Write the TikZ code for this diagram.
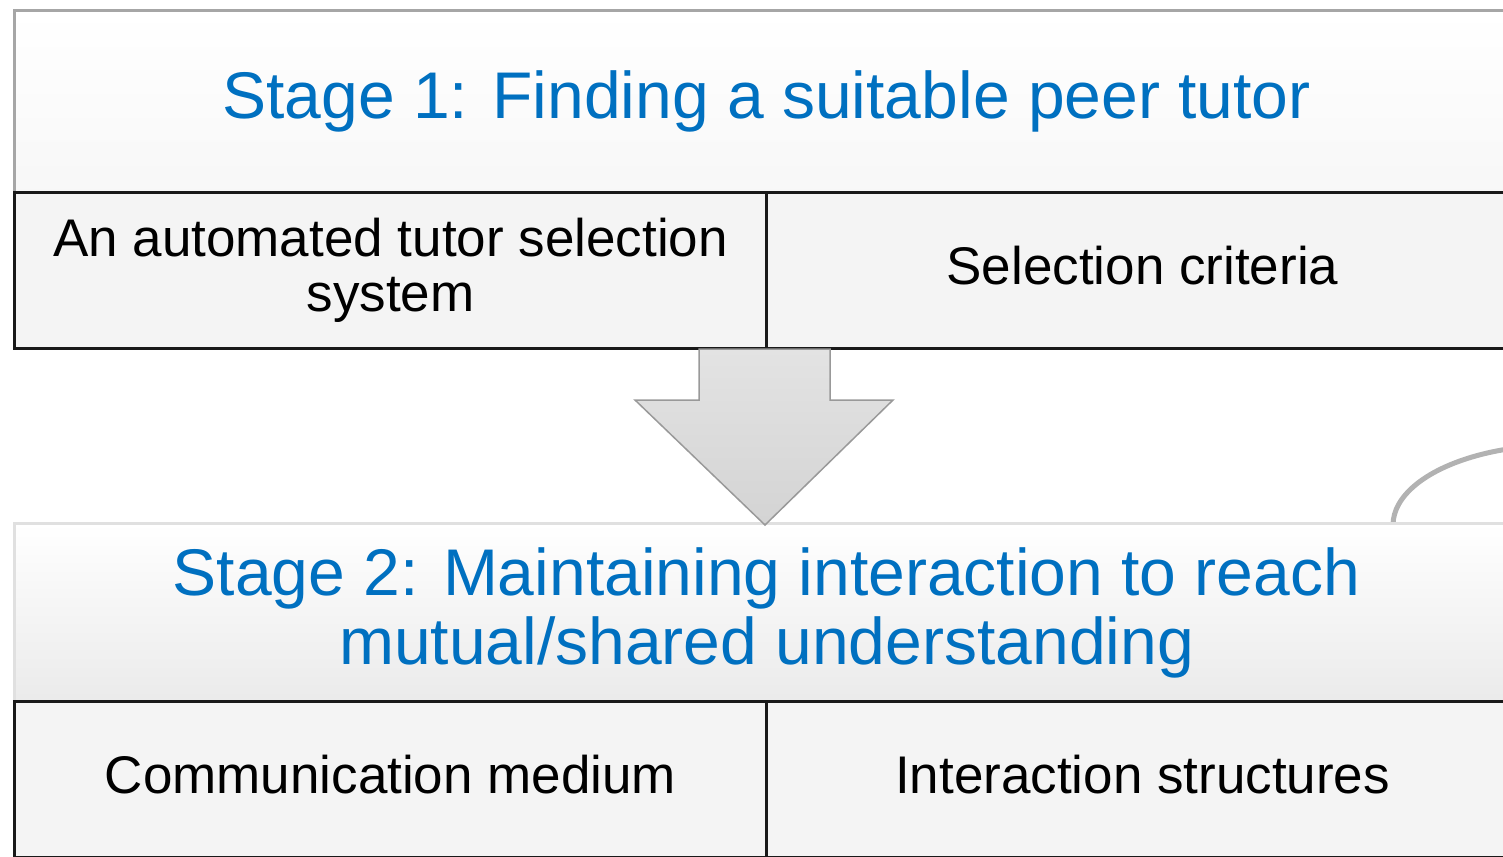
\documentclass[tikz,border=0pt]{standalone}
\usepackage{fontspec}
\setmainfont{Liberation Sans}
\usetikzlibrary{positioning}
\definecolor{stageblue}{RGB}{0,112,192}
\definecolor{framegray}{RGB}{166,166,166}
\definecolor{boxfill}{RGB}{244,244,244}

\begin{document}
\begin{tikzpicture}[x=1pt, y=-1pt,
  headbox/.style={draw=framegray, line width=3pt, top color=white, bottom color=black!3,
    minimum width=1504pt, minimum height=182pt, anchor=north west, inner sep=0pt,
    align=center, text=stageblue, font=\fontsize{66}{69}\selectfont},
  subbox/.style={draw=black!90, line width=3pt, fill=boxfill,
    minimum width=752pt, minimum height=156pt, anchor=north west, inner sep=0pt,
    align=center, font=\fontsize{53}{55}\selectfont},
  flowarrow/.style={draw=black!40, line width=1.5pt, top color=black!11, bottom color=black!17}]
\useasboundingbox (0,0) rectangle (1503,856);
\clip (0,0) rectangle (1503,856);
% stage 1
\node[headbox] (stageone) at (13,9) {Stage 1: Finding a suitable peer tutor};
\node[subbox] (autosel) at (13,191) {An automated tutor selection\\system};
\node[subbox, right=-3pt of autosel.north east, anchor=north west] (selcrit) {Selection criteria\vphantom{y}};
% partly hidden loop on the right
\draw[black!30, line width=5pt] (1393,525) arc[start angle=180, end angle=290, x radius=167, y radius=80];
% stage 2
\node[headbox, draw=black!12, top color=white, middle color=white, bottom color=black!8,
  minimum height=178pt] (stagetwo) at (13,522) {Stage 2: Maintaining interaction to reach\\mutual/shared understanding};
\node[subbox] (commed) at (13,700) {Communication medium\vphantom{y}};
\node[subbox, right=-3pt of commed.north east, anchor=north west] (interstr) {Interaction structures\vphantom{y}};
% arrow between the stages
\draw[flowarrow] (699,349) -- (699,400) -- (635,400) -- (765,525) -- (893,400) -- (830,400) -- (830,349) -- cycle;
\end{tikzpicture}
\end{document}
